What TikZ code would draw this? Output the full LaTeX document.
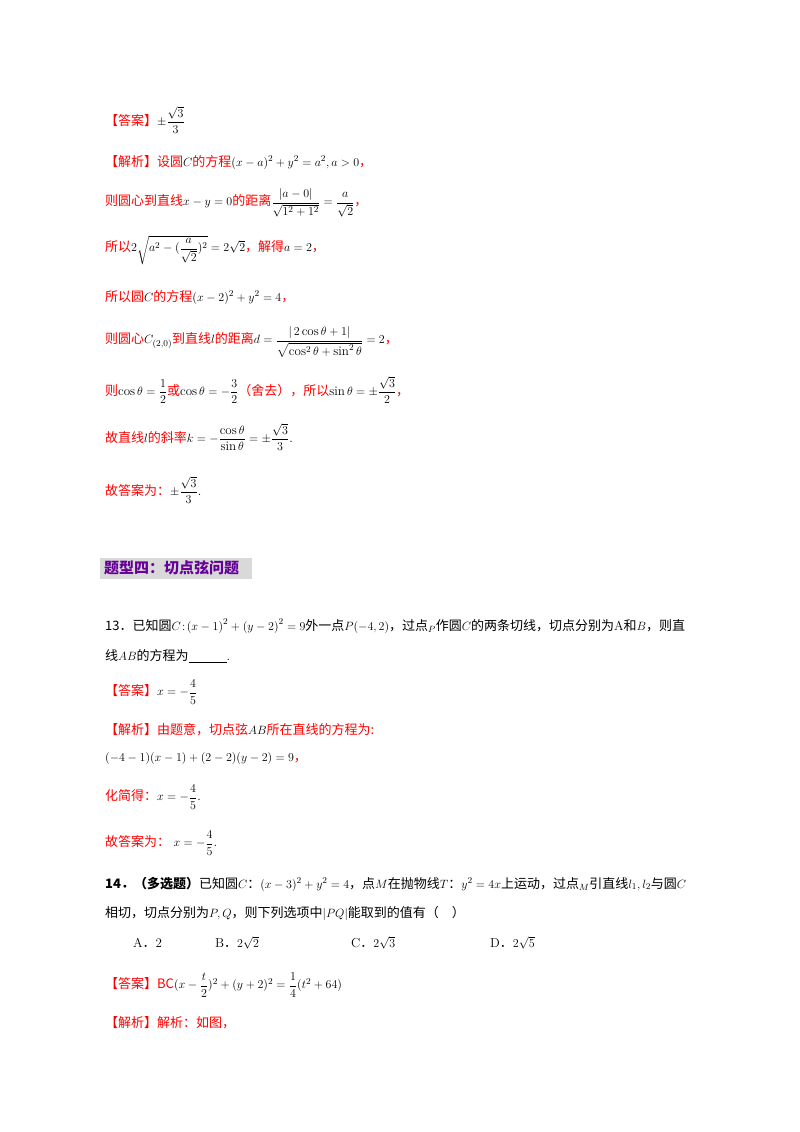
\documentclass[tikz,border=0pt]{standalone}
\usepackage{amsmath}
\usepackage{fontspec}
\newfontfamily\cjk{Noto Sans CJK SC}
\newcommand{\rd}[1]{\textcolor{red}{\cjk #1}}
\begin{document}
\begin{tikzpicture}[x=1pt,y=-1pt,t/.style={anchor=west,inner sep=0pt,font=\fontsize{13}{15}\selectfont}]
\useasboundingbox (0,0) rectangle (800,1132);
\node[t] (a1) at (105,120) {\rd{【答案】}$\pm\dfrac{\sqrt3}{3}$};
\node[t] (a2) at (105,162) {\rd{【解析】设圆}$C$\rd{的方程}$(x-a)^2+y^2=a^2,a>0$\rd{，}};
\node[t] (a3) at (105,203) {\rd{则圆心到直线}$x-y=0$\rd{的距离}$\dfrac{|a-0|}{\sqrt{1^2+1^2}}=\dfrac{a}{\sqrt2}$\rd{，}};
\node[t] (a4) at (105,250) {\rd{所以}$2\sqrt{a^2-(\dfrac{a}{\sqrt2})^2}=2\sqrt2$\rd{，解得}$a=2$\rd{，}};
\node[t] (a5) at (105,297) {\rd{所以圆}$C$\rd{的方程}$(x-2)^2+y^2=4$\rd{，}};
\node[t] (a6) at (105,342) {\rd{则圆心}$C_{(2,0)}$\rd{到直线}$l$\rd{的距离}$d=\dfrac{|\,2\cos\theta+1|}{\sqrt{\cos^2\theta+\sin^2\theta}}=2$\rd{，}};
\node[t] (a7) at (105,390) {\rd{则}$\cos\theta=\dfrac12$\rd{或}$\cos\theta=-\dfrac32$\rd{（舍去），所以}$\sin\theta=\pm\dfrac{\sqrt3}{2}$\rd{，}};
\node[t] (a8) at (105,437) {\rd{故直线}$l$\rd{的斜率}$k=-\dfrac{\cos\theta}{\sin\theta}=\pm\dfrac{\sqrt3}{3}$.};
\node[t] (a9) at (105,490) {\rd{故答案为：}$\pm\dfrac{\sqrt3}{3}$.};
\fill[black!15] (100,558) rectangle (252,579);
\node[t,text=violet!80!blue,font=\fontsize{15}{17}\selectfont] (h) at (104,568) {\cjk\bfseries 题型四：切点弦问题};
\node[t] (b1) at (105,626) {{\cjk 13．已知圆}$C\!:\!\left(x-1\right)^2+\left(y-2\right)^2=9${\cjk 外一点}$P\!\left(-4,2\right)${\cjk ，过点}$_P${\cjk 作圆}$C${\cjk 的两条切线，切点分别为}A{\cjk 和}$B${\cjk ，则直}};
\node[t] (b2) at (105,656) {{\cjk 线}$AB${\cjk 的方程为}\underline{\hspace{38pt}}.};
\node[t] (b3) at (105,692) {\rd{【答案】}$x=-\dfrac45$};
\node[t] (b4) at (105,730) {\rd{【解析】由题意，切点弦}$AB$\rd{所在直线的方程为:}};
\node[t] (b5) at (105,758) {$(-4-1)(x-1)+(2-2)(y-2)=9$\rd{，}};
\node[t] (b6) at (105,797) {\rd{化简得：}$x=-\dfrac45$.};
\node[t] (b7) at (105,843) {\rd{故答案为：}$\;x=-\dfrac45$.};
\node[t] (c1) at (105,884) {{\cjk\bfseries 14．（多选题）}{\cjk 已知圆}$C${\cjk ：}$(x-3)^2+y^2=4${\cjk ，点}$M${\cjk 在抛物线}$T${\cjk ：}$y^2=4x${\cjk 上运动，过点}$_M${\cjk 引直线}$l_1,l_2${\cjk 与圆}$C$};
\node[t] (c2) at (105,913) {{\cjk 相切，切点分别为}$P,Q${\cjk ，则下列选项中}$|PQ|${\cjk 能取到的值有（\quad）}};
\node[t] (o1) at (133,943) {A{\cjk ．}2};
\node[t] (o2) at (215,943) {B{\cjk ．}$2\sqrt2$};
\node[t] (o3) at (351,943) {C{\cjk ．}$2\sqrt3$};
\node[t] (o4) at (490,943) {D{\cjk ．}$2\sqrt5$};
\node[t] (c3) at (105,985) {\rd{【答案】BC}$(x-\dfrac t2)^2+(y+2)^2=\dfrac14(t^2+64)$};
\node[t] (c4) at (105,1023) {\rd{【解析】解析：如图，}};
\end{tikzpicture}
\end{document}
